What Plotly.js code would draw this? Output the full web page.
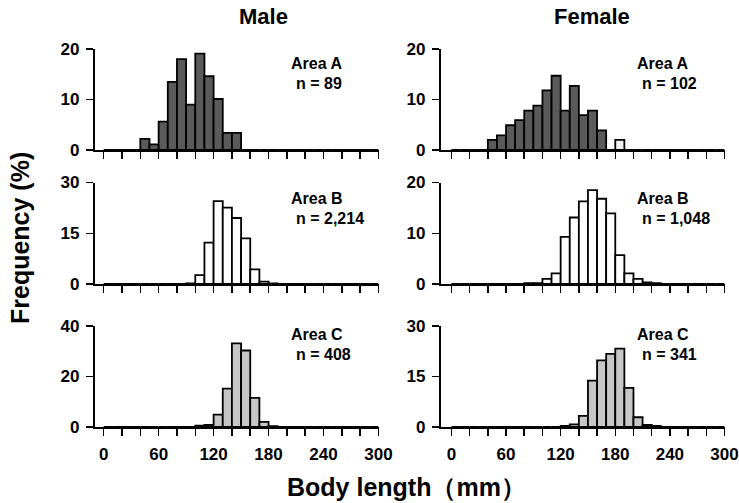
<!DOCTYPE html>
<html><head><meta charset="utf-8">
<script src="https://cdn.plot.ly/plotly-3.0.1.min.js"></script>
<style>html,body{margin:0;padding:0;background:#fff}#chart{width:739px;height:503px}</style>
</head><body><div id="chart"></div>
<script>
// Bin starts (mm), 10 mm bins
const bins = [0,10,20,30,40,50,60,70,80,90,100,110,120,130,140,150,160,170,180,190,200,210,220,230,240,250,260,270,280,290];
// Frequencies (%) per bin
const maleA   = [0,0,0,0,2.2,1.1,5.6,13.5,18.0,9.0,19.1,14.6,10.1,3.4,3.4,0,0,0,0,0,0,0,0,0,0,0,0,0,0,0];
const femaleA = [0,0,0,0,2.0,2.9,4.9,5.9,7.8,8.8,11.8,14.7,7.8,12.7,6.9,7.8,3.9,0,2.0,0,0,0,0,0,0,0,0,0,0,0];
const maleB   = [0,0,0,0,0,0,0,0,0,0.15,2.6,12.2,24.5,22.6,19.5,13.5,4.3,0.7,0.2,0,0,0,0,0,0,0,0,0,0,0];
const femaleB = [0,0,0,0,0,0,0,0,0.15,0.15,1.0,2.1,9.3,13.1,16.3,18.5,16.8,13.9,5.7,2.1,1.0,0.3,0.15,0,0,0,0,0,0,0];
const maleC   = [0,0,0,0,0,0,0,0,0,0,0.5,0.8,4.9,15.2,33.1,30.3,11.5,2.0,0.3,0,0,0,0,0,0,0,0,0,0,0];
const femaleC = [0,0,0,0,0,0,0,0,0,0,0,0,0.3,0.8,3.3,13.8,19.8,21.7,23.3,11.6,2.9,0.6,0.3,0,0,0,0,0,0,0];

const panelNames = ['Area A','Area A','Area B','Area B','Area C','Area C'];
const panelN = ['n = 89','n = 102','n = 2,214','n = 1,048','n = 408','n = 341'];
const columnTitles = ['Male','Female'];
const xTickVals = [0,20,40,60,80,100,120,140,160,180,200,220,240,260,280,300];
const xTickText = ['0','','','60','','','120','','','180','','','240','','','300'];
const yTickSets = [[0,10,20],[0,10,20],[0,15,30],[0,10,20],[0,20,40],[0,15,30]];
const xTitle = 'Body length（mm）';
const yTitle = 'Frequency (%)';

const W = 739, H = 503;
const FONT = 'Liberation Sans, Arial, Helvetica, sans-serif';
const px = v => v / W;
const py = v => (H - v) / H;

const series = [maleA, femaleA, maleB, femaleB, maleC, femaleC];
const fills = ['#5a5a5a','#5a5a5a','#ffffff','#ffffff','#c6c6c6','#c6c6c6'];
const colPx = [[94.5, 378.5], [440.5, 724.5]];
const colRange = [[-10, 300], [-12, 300]];
const rowPx = [[49, 150], [182.5, 284], [326, 427]];

const data = [];
const layout = {
  width: W, height: H,
  margin: {l: 0, r: 0, t: 0, b: 0},
  paper_bgcolor: '#fff', plot_bgcolor: 'rgba(0,0,0,0)',
  showlegend: false, bargap: 0,
  font: {family: FONT, color: '#000'},
  annotations: []
};

series.forEach((vals, i) => {
  const col = i % 2, row = Math.floor(i / 2);
  const k = i + 1;
  const xa = 'xaxis' + (k === 1 ? '' : k), ya = 'yaxis' + (k === 1 ? '' : k);
  const xr = 'x' + (k === 1 ? '' : k), yr = 'y' + (k === 1 ? '' : k);
  let colors = vals.map(() => fills[i]);
  if (i === 1) colors[18] = '#f2f2f2';
  data.push({
    type: 'bar', x: bins, y: vals, xaxis: xr, yaxis: yr,
    offset: 0, width: 10,
    marker: {color: colors, line: {color: '#000', width: 1.8}},
    hoverinfo: 'skip'
  });
  const yt = yTickSets[i];
  layout[xa] = {
    domain: [px(colPx[col][0]), px(colPx[col][1])],
    range: colRange[col], anchor: yr,
    showline: true, linecolor: '#000', linewidth: 1.7,
    showgrid: false, zeroline: false,
    ticks: 'outside', ticklen: 7, tickwidth: 1.5, tickcolor: '#000',
    tickmode: 'array', tickvals: xTickVals, ticktext: xTickText,
    showticklabels: row === 2, ticklabelstandoff: 4,
    tickfont: {family: FONT, size: 17, weight: 'bold', color: '#000'}
  };
  layout[ya] = {
    domain: [py(rowPx[row][1]), py(rowPx[row][0])],
    range: [0, yt[2]], anchor: xr,
    showline: true, linecolor: '#000', linewidth: 1.7,
    showgrid: false, zeroline: false,
    ticks: 'outside', ticklen: 7, tickwidth: 1.5, tickcolor: '#000',
    tickmode: 'array', tickvals: yt, ticktext: yt.map(String),
    ticklabelstandoff: 3,
    tickfont: {family: FONT, size: 17, weight: 'bold', color: '#000'}
  };
  const ax = col === 0 ? 290 : 636;
  const ay = [65, 200, 336][row];
  layout.annotations.push({
    xref: 'paper', yref: 'paper', x: px(ax), y: py(ay - 1.5), xanchor: 'left', yanchor: 'middle',
    text: panelNames[i], showarrow: false, borderpad: 0,
    font: {family: FONT, size: 16, weight: 'bold', color: '#000'}
  });
  layout.annotations.push({
    xref: 'paper', yref: 'paper', x: px(ax + 5), y: py(ay + 18), xanchor: 'left', yanchor: 'middle',
    text: panelN[i], showarrow: false, borderpad: 0,
    font: {family: FONT, size: 16, weight: 'bold', color: '#000'}
  });
});

[263, 592].forEach((cx, j) => {
  layout.annotations.push({
    xref: 'paper', yref: 'paper', x: px(cx), y: py(17), xanchor: 'center', yanchor: 'middle',
    text: columnTitles[j], showarrow: false,
    font: {family: FONT, size: 22, weight: 'bold', color: '#000'}
  });
});
layout.annotations.push({
  xref: 'paper', yref: 'paper', x: px(20), y: py(238), xanchor: 'center', yanchor: 'middle',
  text: yTitle, textangle: -90, showarrow: false,
  font: {family: FONT, size: 25, weight: 'bold', color: '#000'}
});
layout.annotations.push({
  xref: 'paper', yref: 'paper', x: px(406), y: py(487), xanchor: 'center', yanchor: 'middle',
  text: xTitle, showarrow: false,
  font: {family: FONT, size: 25, weight: 'bold', color: '#000'}
});

Plotly.newPlot('chart', data, layout, {staticPlot: true, displayModeBar: false});
</script>
</body></html>
